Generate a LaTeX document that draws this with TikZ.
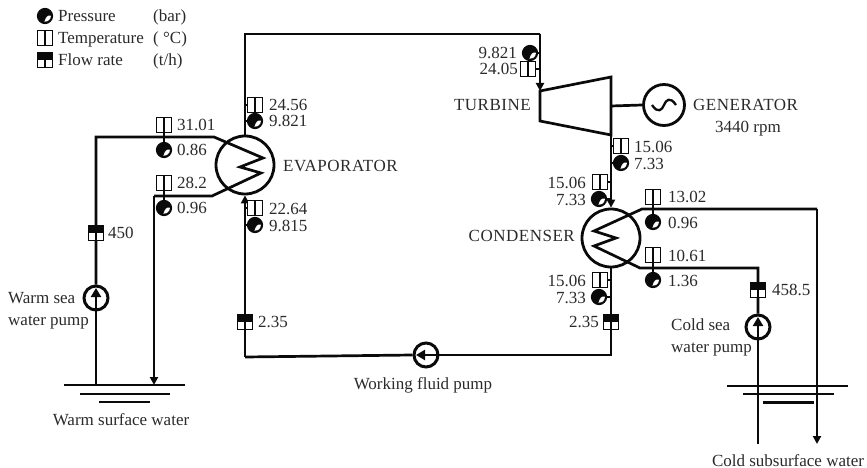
\documentclass[tikz,border=0pt]{standalone}
\usepackage{fontspec}
\setmainfont{Liberation Serif}
\usetikzlibrary{arrows.meta}
\definecolor{ink}{HTML}{0A0A0A}
\definecolor{txt}{HTML}{2A2A2A}
\tikzset{
  pipe/.style={draw=ink,line width=2.7pt,line join=miter},
  flowline/.style={pipe,-{Triangle[length=8pt,width=8pt]}},
  pumpflow/.style={pipe,-{Triangle[length=9pt,width=10pt]}},
  thin stub/.style={draw=ink,line width=1.2pt},
  vessel/.style={circle,draw=ink,line width=2.8pt,minimum size=58pt,inner sep=0pt},
  pumpc/.style={circle,draw=ink,line width=3pt,minimum size=24pt,inner sep=0pt,fill=white},
  tbox/.style={draw=ink,line width=1.2pt,fill=white,minimum size=15pt,inner sep=0pt,
    path picture={\draw[ink,line width=1.2pt] (path picture bounding box.north)--(path picture bounding box.south);}},
  fbox/.style={draw=ink,line width=1.2pt,fill=white,minimum size=15pt,inner sep=0pt,
    path picture={\fill[ink] (path picture bounding box.north west) rectangle (path picture bounding box.east);
      \draw[ink,line width=1.2pt] (path picture bounding box.center)--(path picture bounding box.south);}},
  pcirc/.style={circle,draw=ink,line width=1.2pt,fill=ink,minimum size=15pt,inner sep=0pt,
    path picture={\fill[white] ([shift={(6pt,0.2pt)}]path picture bounding box.center)
       arc[start angle=0,end angle=-95,radius=6pt]
       .. controls ([shift={(0.6pt,-1pt)}]path picture bounding box.center) and ([shift={(3pt,1.5pt)}]path picture bounding box.center) .. cycle;}},
  lab/.style={inner sep=0pt,text=txt,font=\fontsize{17}{19}\selectfont,anchor=base west},
  labr/.style={lab,anchor=base east},
  labc/.style={lab,anchor=base},
  wide/.style={font=\fontsize{17}{19}\selectfont\addfontfeatures{LetterSpace=3}}
}
\begin{document}
\begin{tikzpicture}[x=1pt,y=-1pt]
\useasboundingbox (0,0) rectangle (867,468);
% main components
\node[vessel] (evap) at (245,165) {};
\node[vessel] (cond) at (611,238) {};
\node[vessel,minimum size=41pt] (gen) at (664,105) {};
\coordinate (tiT) at (540,91);
\coordinate (toT) at (611,135);
\coordinate (tTR) at (611,77);
\coordinate (tBL) at (540,121);
\draw[pipe] (tiT)--(tTR)--(toT)--(tBL)--cycle;
\coordinate (tShaft) at (611,106);
\draw[pipe] (tShaft)--(gen.west);
\draw[pipe,line width=2.3pt] ([xshift=-12pt]gen.center) .. controls ([shift={(-6pt,-9pt)}]gen.center) and ([shift={(-2pt,-5pt)}]gen.center) .. (gen.center)
  .. controls ([shift={(2pt,5pt)}]gen.center) and ([shift={(6pt,9pt)}]gen.center) .. ([xshift=12pt]gen.center);
% pumps
\node[pumpc] (wpump) at (96,298) {};
\node[pumpc] (fpump) at (426,355) {};
\node[pumpc] (cpump) at (758,327) {};
% working fluid loop
\coordinate (topL) at (245,34);
\coordinate (topR) at (540,34);
\coordinate (botL) at (245,357);
\coordinate (botR) at (611,355);
\draw[pipe] (evap.north)--(topL)--(topR);
\draw[flowline] (topR)--(tiT);
\draw[flowline] (toT)--(cond.north);
\draw[pipe] (cond.south)--(botR)--(fpump.east);
\draw[pipe] (fpump.west)--(botL);
\draw[flowline] (botL)--(evap.south);
% warm water
\coordinate (wl1) at (96,137);
\coordinate (ec1) at (214,137);
\coordinate (ec2) at (263,158);
\coordinate (ec3) at (240,167);
\coordinate (ec4) at (261,173);
\coordinate (ec5) at (212,196);
\coordinate (wl2) at (154,196);
\coordinate (wg1) at (96,385);
\coordinate (wg2) at (154,385);
\draw[pipe] (wg1)--(wpump.south);
\draw[pipe] (wpump.north)--(wl1)--(ec1)--(ec2)--(ec3)--(ec4)--(ec5)--(wl2);
\draw[flowline] (wl2)--(wg2);
% cold water
\coordinate (cc1) at (642,209);
\coordinate (cc2) at (594,231);
\coordinate (cc3) at (616,238);
\coordinate (cc4) at (594,246);
\coordinate (cc5) at (640,268);
\coordinate (cl1) at (758,268);
\coordinate (cl2) at (817,209);
\coordinate (cg1) at (758,444);
\coordinate (cg2) at (817,444);
\draw[pipe] (cg1)--(cpump.south);
\draw[pipe] (cpump.north)--(cl1)--(cc5)--(cc4)--(cc3)--(cc2)--(cc1)--(cl2);
\draw[flowline] (cl2)--(cg2);
% pump arrows
\coordinate (wpa) at (96,288);\coordinate (fpa) at (416,355);\coordinate (cpa) at (758,317);
\draw[pumpflow] (wpump.south)--(wpa);
\draw[pumpflow] (fpump.east)--(fpa);
\draw[pumpflow] (cpump.south)--(cpa);
% water levels
\coordinate (a1) at (64,385);\coordinate (a2) at (185,385);
\coordinate (a3) at (80,394);\coordinate (a4) at (170,394);
\coordinate (a5) at (99,402);\coordinate (a6) at (150,402);
\draw[pipe] (a1)--(a2);\draw[pipe] (a3)--(a4);\draw[pipe] (a5)--(a6);
\coordinate (b1) at (727,386);\coordinate (b2) at (848,386);
\coordinate (b3) at (743,394);\coordinate (b4) at (834,394);
\coordinate (b5) at (763,402.5);\coordinate (b6) at (814,402.5);
\draw[pipe] (b1)--(b2);\draw[pipe] (b3)--(b4);\draw[pipe] (b5)--(b6);
% instruments: warm side
\node[tbox] (t1) at (164,125) {};
\node[pcirc] (p1) at (164,150) {};
\draw[thin stub] (t1.south)--(p1.north);
\node[tbox] (t2) at (164,183) {};
\node[pcirc] (p2) at (164,208) {};
\draw[thin stub] (t2.south)--(p2.north);
% evaporator working side
\node[tbox] (t3) at (255,105) {};
\node[pcirc] (p3) at (255,121) {};
\node[tbox] (t4) at (255,208) {};
\node[pcirc] (p4) at (255,225) {};
\foreach \n in {t3,p3,t4,p4}{\draw[thin stub] (\n.west)--(topL |- \n.west);}
% turbine inlet
\node[pcirc] (p5) at (530,53) {};
\node[tbox] (t5) at (528,69) {};
\foreach \n in {p5,t5}{\draw[thin stub] (\n.east)--(topR |- \n.east);}
% turbine outlet
\node[tbox] (t6) at (621,146) {};
\node[pcirc] (p6) at (621,163) {};
\foreach \n in {t6,p6}{\draw[thin stub] (\n.west)--(toT |- \n.west);}
% condenser
\node[tbox] (t7) at (600,182) {};
\node[pcirc] (p7) at (599,199) {};
\node[tbox] (t8) at (600,280) {};
\node[pcirc] (p8) at (599,297) {};
\foreach \n in {t7,p7,t8,p8}{\draw[thin stub] (\n.east)--(toT |- \n.east);}
\node[tbox] (t9) at (653,197) {};
\node[pcirc] (p9) at (653,222) {};
\draw[thin stub] (t9.south)--(p9.north);
\node[tbox] (t10) at (653,255) {};
\node[pcirc] (p10) at (653,280) {};
\draw[thin stub] (t10.south)--(p10.north);
% flow
\node[fbox] (f1) at (96,233) {};
\node[fbox] (f2) at (245,322) {};
\node[fbox] (f3) at (611,322) {};
\node[fbox] (f4) at (758,290) {};
% legend
\node[pcirc] (lp) at (45,16) {};
\node[tbox] (lt) at (45,38) {};
\node[fbox] (lf) at (45,60) {};
\node[lab] (ltp) at (58,22) {Pressure};
\node[lab] (ltt) at (58,44) {Temperature};
\node[lab] (ltf) at (58,66) {Flow rate};
\node[lab] (lup) at (153,22) {(bar)};
\node[lab] (lut) at (153,44) {( °C)};
\node[lab] (luf) at (153,66) {(t/h)};
% values
\node[lab] (v1) at (177,130.5) {31.01};
\node[lab] (v2) at (177,155.5) {0.86};
\node[lab] (v3) at (177,188.5) {28.2};
\node[lab] (v4) at (177,213.5) {0.96};
\node[lab] (v5) at (269,110.5) {24.56};
\node[lab] (v6) at (269,127) {9.821};
\node[lab] (v7) at (269,214) {22.64};
\node[lab] (v8) at (269,231) {9.815};
\node[labr] (v9) at (517,58.5) {9.821};
\node[labr] (v10) at (518,75) {24.05};
\node[lab] (v11) at (634,152) {15.06};
\node[lab] (v12) at (634,169) {7.33};
\node[labr] (v13) at (586,188) {15.06};
\node[labr] (v14) at (586,205) {7.33};
\node[labr] (v15) at (586,286) {15.06};
\node[labr] (v16) at (586,303) {7.33};
\node[lab] (v17) at (668,202.5) {13.02};
\node[lab] (v18) at (668,228) {0.96};
\node[lab] (v19) at (668,261) {10.61};
\node[lab] (v20) at (668,286) {1.36};
\node[lab] (v21) at (108,238.5) {450};
\node[lab] (v22) at (258,327.5) {2.35};
\node[labr] (v23) at (599,327.5) {2.35};
\node[lab] (v24) at (772,295.5) {458.5};
% labels
\node[lab,wide] (n1) at (283,171) {EVAPORATOR};
\node[lab,wide,anchor=base east] (n2) at (575,241.5) {CONDENSER};
\node[lab,wide,anchor=base east] (n3) at (531,111) {TURBINE};
\node[lab,wide] (n4) at (693,111) {GENERATOR};
\node[labc] (n5) at (748,132) {3440 rpm};
\node[lab] (n6) at (8,303) {Warm sea};
\node[lab] (n7) at (8,325) {water pump};
\node[lab] (n8) at (671,330) {Cold sea};
\node[lab] (n9) at (671,352) {water pump};
\node[labc] (n10) at (121,425) {Warm surface water};
\node[labc] (n11) at (423,389) {Working fluid pump};
\node[labc] (n12) at (788,466) {Cold subsurface water};
\end{tikzpicture}
\end{document}
